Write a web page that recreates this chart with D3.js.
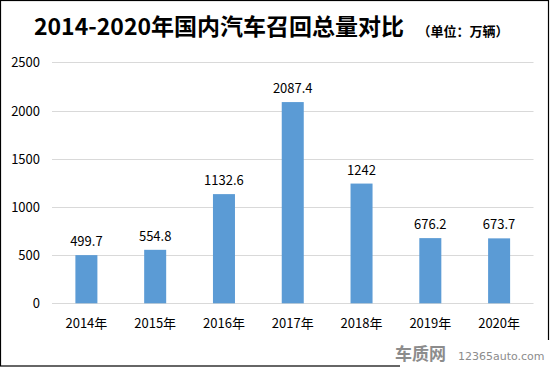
<!DOCTYPE html>
<html><head><meta charset="utf-8">
<script src="https://cdn.jsdelivr.net/npm/d3@7"></script>
<style>body{margin:0;background:#fff}svg{display:block}</style>
</head><body>
<svg id="c" width="550" height="367"></svg>
<script>
const categories = ["2014年","2015年","2016年","2017年","2018年","2019年","2020年"];
const values = [499.7, 554.8, 1132.6, 2087.4, 1242, 676.2, 673.7];
const valueLabels = ["499.7","554.8","1132.6","2087.4","1242","676.2","673.7"];
const yTicks = [0,500,1000,1500,2000,2500];

(function(){
const svg = d3.select("#c");
const font = "'Noto Sans CJK SC','Microsoft YaHei',sans-serif";
svg.append("rect").attr("x",0.5).attr("y",0.5).attr("width",548).attr("height",365.5)
  .attr("fill","#fff").attr("stroke","#000").attr("stroke-width",1.2);

const pl = 52, pr = 533.5, pt = 62.3, pb = 303.3;
const x = d3.scaleBand().domain(categories).range([pl,pr]).paddingInner(0.68).paddingOuter(0.34);
const y = d3.scaleLinear().domain([0,2500]).range([pb,pt]);

svg.append("g").selectAll("line").data(yTicks).join("line")
  .attr("x1",pl).attr("x2",pr).attr("y1",d=>Math.round(y(d))+0.5).attr("y2",d=>Math.round(y(d))+0.5)
  .attr("stroke","#d9d9d9").attr("stroke-width",1);

const yAxis = d3.axisLeft(y).tickValues(yTicks).tickFormat(d3.format("d")).tickSize(0).tickPadding(0);
const gy = svg.append("g").attr("transform",`translate(40,0)`).call(yAxis);
gy.select(".domain").remove();
gy.selectAll("text").attr("font-family",font).attr("font-size",13).attr("fill","#000").attr("dy","0.35em");

svg.append("g").selectAll("rect").data(values).join("rect")
  .attr("x",(d,i)=>x(categories[i])).attr("width",x.bandwidth())
  .attr("y",d=>y(d)).attr("height",d=>pb-y(d)).attr("fill","#5b9bd5");

svg.append("g").selectAll("text").data(values).join("text")
  .attr("x",(d,i)=>x(categories[i])+x.bandwidth()/2).attr("y",d=>y(d)-9)
  .attr("text-anchor","middle").attr("font-family",font).attr("font-size",13).attr("fill","#000")
  .text((d,i)=>valueLabels[i]);

const xAxis = d3.axisBottom(x).tickSize(0).tickPadding(0);
const gx = svg.append("g").attr("transform",`translate(0,${pb})`).call(xAxis);
gx.select(".domain").remove();
gx.selectAll("text").attr("font-family",font).attr("font-size",13).attr("fill","#000").attr("dy",0).attr("y",25);

svg.append("text").attr("x",219).attr("y",35).attr("text-anchor","middle")
  .attr("font-family",font).attr("font-weight","bold").attr("font-size",23).attr("fill","#000")
  .text("2014-2020年国内汽车召回总量对比");
svg.append("text").attr("x",463).attr("y",36).attr("text-anchor","middle")
  .attr("font-family",font).attr("font-weight","bold").attr("font-size",13).attr("fill","#000")
  .text("（单位：万辆）");

svg.append("rect").attr("x",400).attr("y",340).attr("width",150).attr("height",27).attr("fill","#fff");
svg.append("text").attr("x",446).attr("y",360).attr("text-anchor","end")
  .attr("font-family",font).attr("font-weight","bold").attr("font-size",17).attr("fill","#8c8c8c")
  .text("车质网");
svg.append("text").attr("x",458).attr("y",360)
  .attr("font-family","'DejaVu Sans',sans-serif").attr("font-size",11).attr("fill","#8c8c8c")
  .text("12365auto.com");
})();
</script>
</body></html>
